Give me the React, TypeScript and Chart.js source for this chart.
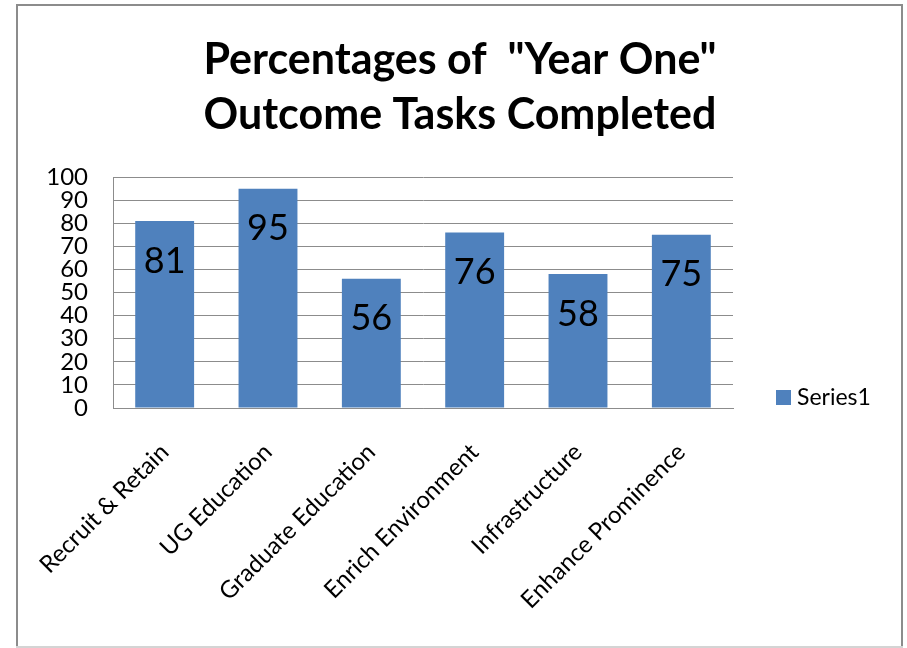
import React, { useEffect, useRef } from "react";
import { Chart, registerables } from "chart.js";

Chart.register(...registerables);

const categories = [
  "Recruit & Retain",
  "UG Education",
  "Graduate Education",
  "Enrich Environment",
  "Infrastructure",
  "Enhance Prominence",
];
const values = [81, 95, 56, 76, 58, 75];
const seriesName = "Series1";
const titleLines = ['Percentages of  "Year One"', "Outcome Tasks Completed"];
const yMin = 0;
const yMax = 100;
const yStep = 10;

const BAR_COLOR = "#4f81bd";
const GRID = "#8c8c8c";
const FONT = "Lato, 'Open Sans', sans-serif";

const framePlugin = {
  id: "frame",
  beforeDraw(chart: any) {
    const ctx = chart.ctx;
    ctx.save();
    ctx.fillStyle = "#ffffff";
    ctx.fillRect(0, 0, chart.width, chart.height);
    ctx.fillStyle = "#8c8c8c";
    ctx.fillRect(16, 4, 2, 643);
    ctx.fillRect(16, 4, 887, 2);
    ctx.fillRect(901, 4, 2, 643);
    ctx.fillStyle = "#d4d4d4";
    ctx.fillRect(16, 646, 887, 2);
    ctx.restore();
  },
};

const labelPlugin = {
  id: "barLabels",
  afterDatasetsDraw(chart: any) {
    const ctx = chart.ctx;
    const meta = chart.getDatasetMeta(0);
    const data = chart.data.datasets[0].data;
    ctx.save();
    ctx.font = `36px ${FONT}`;
    ctx.fillStyle = "#000000";
    ctx.textAlign = "center";
    ctx.textBaseline = "middle";
    meta.data.forEach((el: any, i: number) => {
      ctx.fillText(String(data[i]), el.x, el.y + 40);
    });
    ctx.restore();
  },
};

const legendPlugin = {
  id: "customLegend",
  afterDraw(chart: any) {
    const ctx = chart.ctx;
    const area = chart.chartArea;
    const ds = chart.data.datasets[0];
    const x = area.right + 43;
    const y = 398;
    ctx.save();
    ctx.fillStyle = ds.backgroundColor;
    ctx.fillRect(x, y - 8, 15, 15);
    ctx.font = `23px ${FONT}`;
    ctx.fillStyle = "#000000";
    ctx.textAlign = "left";
    ctx.textBaseline = "middle";
    ctx.fillText(ds.label, x + 21, y);
    ctx.restore();
  },
};

export default function App() {
  const ref = useRef<HTMLCanvasElement>(null);

  useEffect(() => {
    document.body.style.margin = "0";
    const canvas = ref.current;
    if (!canvas) return;
    const chart = new Chart(canvas, {
      type: "bar",
      data: {
        labels: categories,
        datasets: [
          {
            label: seriesName,
            data: values,
            backgroundColor: BAR_COLOR,
            borderWidth: 0,
            barPercentage: 0.57,
            categoryPercentage: 1,
            yAxisID: "y",
          },
        ],
      },
      options: {
        responsive: false,
        animation: false,
        events: [],
        layout: { padding: { left: 16, right: 3, top: 4, bottom: 0 } },
        plugins: {
          legend: { display: false },
          tooltip: { enabled: false },
          title: {
            display: true,
            text: titleLines,
            color: "#000000",
            font: { family: FONT, size: 43, weight: "bold", lineHeight: 1.28 },
            padding: { top: 29, bottom: 34 },
          },
        },
        scales: {
          x: {
            grid: { display: false },
            border: { display: true, color: GRID, width: 1 },
            ticks: {
              color: "#000000",
              font: { family: FONT, size: 24 },
              maxRotation: 45,
              minRotation: 45,
              autoSkip: false,
              padding: 22,
            },
            afterFit(scale: any) {
              scale.height = 240;
            },
          },
          y: {
            min: yMin,
            max: yMax,
            grid: { color: GRID, drawTicks: false },
            border: { display: true, color: GRID, width: 1 },
            ticks: {
              stepSize: yStep,
              autoSkip: false,
              color: "#000000",
              font: { family: FONT, size: 24, lineHeight: 1 },
              padding: 25,
            },
            afterFit(scale: any) {
              scale.width = 97;
            },
          },
          yr: {
            position: "right",
            display: true,
            grid: { display: false },
            border: { display: false },
            ticks: { display: false },
            afterFit(scale: any) {
              scale.width = 171;
            },
          },
        },
      },
      plugins: [framePlugin, labelPlugin, legendPlugin],
    } as any);
    return () => chart.destroy();
  }, []);

  return (
    <div style={{ width: 907, height: 648 }}>
      <canvas ref={ref} width={907} height={648} style={{ display: "block" }} />
    </div>
  );
}
